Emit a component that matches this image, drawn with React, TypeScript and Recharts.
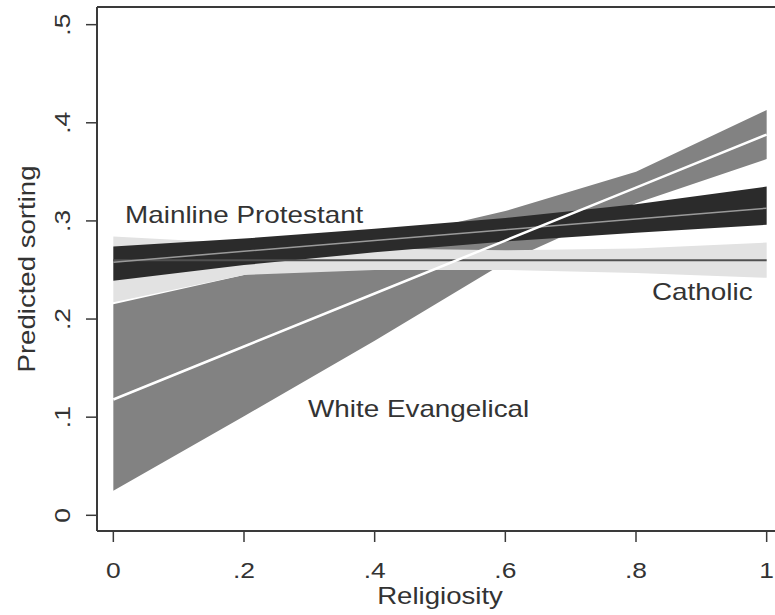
import {
  Area,
  ComposedChart,
  Line,
  ReferenceDot,
  XAxis,
  YAxis,
} from "recharts";

// religiosity grid
const xs = [0, 0.2, 0.4, 0.6, 0.8, 1];

// White Evangelical: fit + 95% band
const evangelicalFit = [0.118, 0.172, 0.226, 0.28, 0.334, 0.388];
const evangelicalLow = [0.025, 0.101, 0.178, 0.258, 0.318, 0.363];
const evangelicalHigh = [0.215, 0.245, 0.279, 0.31, 0.35, 0.413];

// Mainline Protestant
const mainlineFit = [0.258, 0.269, 0.28, 0.291, 0.302, 0.313];
const mainlineLow = [0.239, 0.255, 0.268, 0.279, 0.288, 0.296];
const mainlineHigh = [0.274, 0.282, 0.292, 0.303, 0.317, 0.335];

// Catholic
const catholicFit = [0.26, 0.26, 0.26, 0.26, 0.26, 0.26];
const catholicLow = [0.217, 0.245, 0.25, 0.25, 0.247, 0.242];
const catholicHigh = [0.284, 0.277, 0.272, 0.27, 0.272, 0.278];

const xTicks = [0, 0.2, 0.4, 0.6, 0.8, 1];
const yTicks = [0, 0.1, 0.2, 0.3, 0.4, 0.5];

const annotations = [
  { text: "Mainline Protestant", x: 0.018, y: 0.298 },
  { text: "Catholic", x: 0.8245, y: 0.2195 },
  { text: "White Evangelical", x: 0.298, y: 0.1002 },
];

const data = xs.map((x, i) => ({
  x,
  evFit: evangelicalFit[i],
  evBand: [evangelicalLow[i], evangelicalHigh[i]],
  mpFit: mainlineFit[i],
  mpBand: [mainlineLow[i], mainlineHigh[i]],
  caFit: catholicFit[i],
  caBand: [catholicLow[i], catholicHigh[i]],
}));

const font = "'Liberation Sans', Arial, sans-serif";
const ink = "#333";
const axisLine = { stroke: "#3a3a3a", strokeWidth: 2 };
const tickLine = { stroke: "#3a3a3a", strokeWidth: 1.5 };

const fmt = (v: number) => (v === 0 ? "0" : v === 1 ? "1" : String(v).replace("0.", "."));

const XTick = ({ x, y, payload }: any) => (
  <text transform={`translate(${x},${y + 34}) scale(1.2,1)`} textAnchor="middle" fontSize={22} fontFamily={font} fill={ink}>
    {fmt(payload.value)}
  </text>
);

const YTick = ({ x, y, payload }: any) => (
  <text transform={`translate(${x - 14},${y}) rotate(-90) scale(1.2,1)`} textAnchor="middle" fontSize={22} fontFamily={font} fill={ink}>
    {fmt(payload.value)}
  </text>
);

const xTitle = ({ viewBox }: any) => (
  <text transform={`translate(${viewBox.x + viewBox.width / 2},604) scale(1.2,1)`} textAnchor="middle" fontSize={23} fontFamily={font} fill={ink}>
    Religiosity
  </text>
);

const yTitle = ({ viewBox }: any) => (
  <text transform={`translate(35,${viewBox.y + viewBox.height / 2}) rotate(-90) scale(1.2,1)`} textAnchor="middle" fontSize={23} fontFamily={font} fill={ink}>
    Predicted sorting
  </text>
);

const annotationLabel = (text: string) => ({ viewBox }: any) => (
  <text transform={`translate(${viewBox.x + viewBox.width / 2},${viewBox.y + viewBox.height / 2}) scale(1.16,1)`} fontSize={24} fontFamily={font} fill={ink}>
    {text}
  </text>
);

export default function App() {
  return (
    <div style={{ position: "fixed", left: 0, top: 0, width: 775, height: 615, overflow: "hidden", background: "#fff" }}>
      <ComposedChart width={800} height={615} data={data} margin={{ top: 6, right: 17, bottom: 83, left: 96 }}>
        <XAxis
          dataKey="x"
          type="number"
          domain={[-0.025, 1.025]}
          ticks={xTicks}
          height={1}
          tickSize={11}
          axisLine={axisLine}
          tickLine={tickLine}
          tick={<XTick />}
          label={{ content: xTitle }}
        />
        <XAxis xAxisId="top" dataKey="x" type="number" orientation="top" domain={[-0.025, 1.025]} height={1} tick={false} tickLine={false} axisLine={axisLine} />
        <YAxis
          type="number"
          domain={[-0.016, 0.518]}
          ticks={yTicks}
          width={1}
          tickSize={11}
          axisLine={axisLine}
          tickLine={tickLine}
          tick={<YTick />}
          label={{ content: yTitle }}
        />
        <Area type="linear" dataKey="evBand" fill="#828282" fillOpacity={1} stroke="none" isAnimationActive={false} />
        <Area type="linear" dataKey="caBand" fill="#e2e2e2" fillOpacity={1} stroke="none" isAnimationActive={false} />
        <Area type="linear" dataKey="mpBand" fill="#2b2b2b" fillOpacity={1} stroke="none" isAnimationActive={false} />
        <Line type="linear" dataKey="caFit" stroke="#505050" strokeWidth={2} dot={false} isAnimationActive={false} />
        <Line type="linear" dataKey="mpFit" stroke="#9a9a9a" strokeWidth={1.5} dot={false} isAnimationActive={false} />
        <Line type="linear" dataKey="evFit" stroke="#ffffff" strokeWidth={2.5} dot={false} isAnimationActive={false} />
        {annotations.map((a) => (
          <ReferenceDot key={a.text} x={a.x} y={a.y} r={1} fill="none" stroke="none" label={{ content: annotationLabel(a.text) }} />
        ))}
      </ComposedChart>
    </div>
  );
}
